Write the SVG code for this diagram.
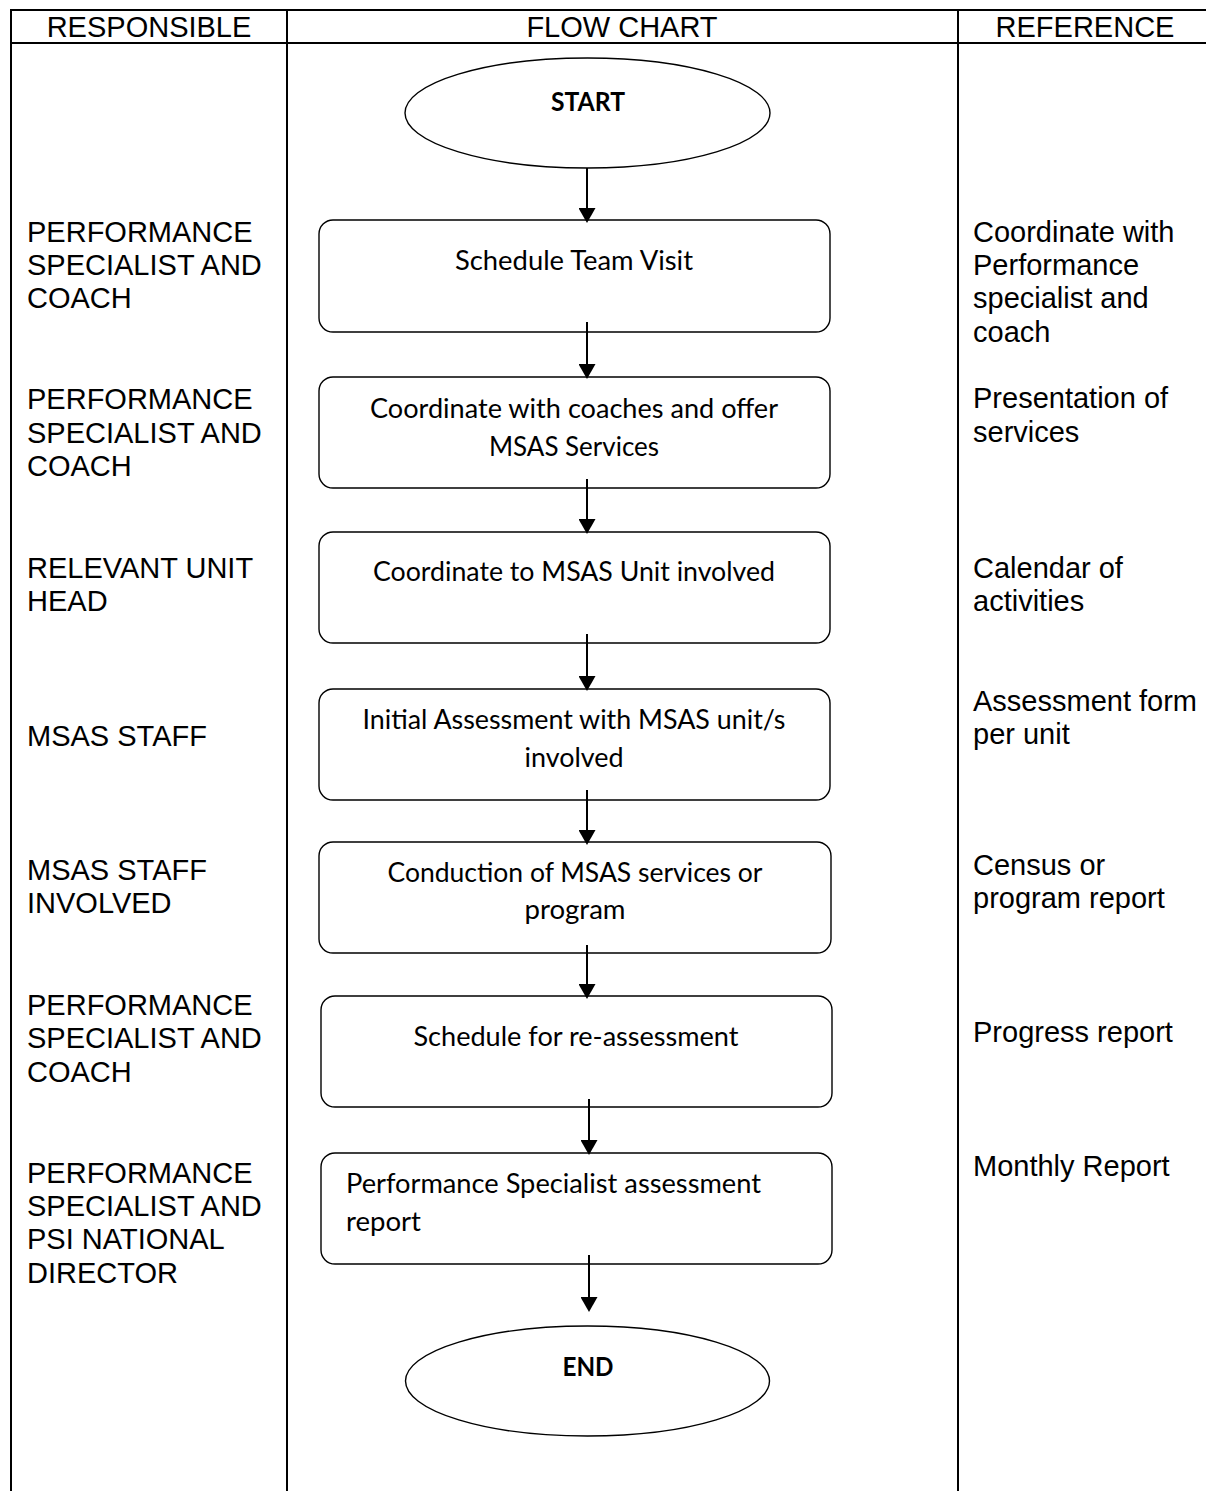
<svg xmlns="http://www.w3.org/2000/svg" width="1206" height="1491" viewBox="0 0 1206 1491">
<style>
.grid{stroke:#000;stroke-width:2;fill:none}
.tbl{font-family:"Liberation Sans",Arial,sans-serif;font-size:29px;fill:#000}
.hd{text-anchor:middle}
.box{fill:#fff;stroke:#000;stroke-width:1.4}
.ft{font-family:Lato,"Open Sans",sans-serif;font-size:26px;fill:#000;text-anchor:middle}
.fb{font-weight:bold}
.con{stroke:#000;stroke-width:2;fill:none}
</style>
<defs>
<marker id="ah" markerUnits="userSpaceOnUse" markerWidth="15" markerHeight="17" refX="4" refY="8.5" orient="auto">
<path d="M0,0 L15,8.5 L0,17 z" fill="#000"/>
</marker>
</defs>
<rect width="1206" height="1491" fill="#fff"/>
<g id="table">
<line class="grid" x1="10" y1="10" x2="1206" y2="10"/>
<line class="grid" x1="11" y1="9" x2="11" y2="1491"/>
<line class="grid" x1="11" y1="43" x2="1206" y2="43"/>
<line class="grid" x1="287" y1="10" x2="287" y2="1491"/>
<line class="grid" x1="958" y1="10" x2="958" y2="1491"/>
<text class="tbl hd" x="149" y="37">RESPONSIBLE</text>
<text class="tbl hd" x="622" y="37">FLOW CHART</text>
<text class="tbl hd" x="1085" y="37">REFERENCE</text>
</g>
<g id="responsible" class="tbl">
<text x="27" y="241.7">PERFORMANCE<tspan x="27" dy="33.33">SPECIALIST AND</tspan><tspan x="27" dy="33.33">COACH</tspan></text>
<text x="27" y="409.3">PERFORMANCE<tspan x="27" dy="33.33">SPECIALIST AND</tspan><tspan x="27" dy="33.33">COACH</tspan></text>
<text x="27" y="578">RELEVANT UNIT<tspan x="27" dy="33.33">HEAD</tspan></text>
<text x="27" y="746">MSAS STAFF</text>
<text x="27" y="880">MSAS STAFF<tspan x="27" dy="33.33">INVOLVED</tspan></text>
<text x="27" y="1015">PERFORMANCE<tspan x="27" dy="33.33">SPECIALIST AND</tspan><tspan x="27" dy="33.33">COACH</tspan></text>
<text x="27" y="1182.7">PERFORMANCE<tspan x="27" dy="33.33">SPECIALIST AND</tspan><tspan x="27" dy="33.33">PSI NATIONAL</tspan><tspan x="27" dy="33.33">DIRECTOR</tspan></text>
</g>
<g id="reference" class="tbl">
<text x="973" y="241.7">Coordinate with<tspan x="973" dy="33.33">Performance</tspan><tspan x="973" dy="33.33">specialist and</tspan><tspan x="973" dy="33.33">coach</tspan></text>
<text x="973" y="408.3">Presentation of<tspan x="973" dy="33.33">services</tspan></text>
<text x="973" y="577.5">Calendar of<tspan x="973" dy="33.33">activities</tspan></text>
<text x="973" y="711">Assessment form<tspan x="973" dy="33.33">per unit</tspan></text>
<text x="973" y="875">Census or<tspan x="973" dy="33.33">program report</tspan></text>
<text x="973" y="1042">Progress report</text>
<text x="973" y="1176">Monthly Report</text>
</g>
<g id="start">
<ellipse class="box" cx="587.5" cy="113" rx="182.5" ry="55"/>
<text class="ft fb" x="588" y="111" textLength="74" lengthAdjust="spacingAndGlyphs">START</text>
</g>
<g id="n1">
<rect class="box" x="319" y="220" width="511" height="112" rx="14"/>
<text class="ft" x="574" y="270" textLength="238" lengthAdjust="spacingAndGlyphs">Schedule Team Visit</text>
</g>
<g id="n2">
<rect class="box" x="319" y="377" width="511" height="111" rx="14"/>
<text class="ft" x="574" y="418" textLength="408" lengthAdjust="spacingAndGlyphs">Coordinate with coaches and offer</text>
<text class="ft" x="574" y="456" textLength="170" lengthAdjust="spacingAndGlyphs">MSAS Services</text>
</g>
<g id="n3">
<rect class="box" x="319" y="532" width="511" height="111" rx="14"/>
<text class="ft" x="574" y="581" textLength="402" lengthAdjust="spacingAndGlyphs">Coordinate to MSAS Unit involved</text>
</g>
<g id="n4">
<rect class="box" x="319" y="689" width="511" height="111" rx="14"/>
<text class="ft" x="574" y="729" textLength="423" lengthAdjust="spacingAndGlyphs">Initial Assessment with MSAS unit/s</text>
<text class="ft" x="574" y="767" textLength="99" lengthAdjust="spacingAndGlyphs">involved</text>
</g>
<g id="n5">
<rect class="box" x="319" y="842" width="512" height="111" rx="14"/>
<text class="ft" x="575" y="882" textLength="375" lengthAdjust="spacingAndGlyphs">Conduction of MSAS services or</text>
<text class="ft" x="575" y="919" textLength="101" lengthAdjust="spacingAndGlyphs">program</text>
</g>
<g id="n6">
<rect class="box" x="321" y="996" width="511" height="111" rx="14"/>
<text class="ft" x="576" y="1046" textLength="325" lengthAdjust="spacingAndGlyphs">Schedule for re-assessment</text>
</g>
<g id="n7">
<rect class="box" x="321" y="1153" width="511" height="111" rx="14"/>
<text class="ft" x="346" y="1193" style="text-anchor:start" textLength="415" lengthAdjust="spacingAndGlyphs">Performance Specialist assessment</text>
<text class="ft" x="346" y="1231" style="text-anchor:start" textLength="75" lengthAdjust="spacingAndGlyphs">report</text>
</g>
<g id="end">
<ellipse class="box" cx="587.5" cy="1381" rx="182" ry="55"/>
<text class="ft fb" x="588" y="1376" textLength="51" lengthAdjust="spacingAndGlyphs">END</text>
</g>
<g id="connectors">
<line class="con" x1="587" y1="168" x2="587" y2="212" marker-end="url(#ah)"/>
<line class="con" x1="587" y1="322" x2="587" y2="368" marker-end="url(#ah)"/>
<line class="con" x1="587" y1="479" x2="587" y2="523" marker-end="url(#ah)"/>
<line class="con" x1="587" y1="634" x2="587" y2="680" marker-end="url(#ah)"/>
<line class="con" x1="587" y1="790" x2="587" y2="834" marker-end="url(#ah)"/>
<line class="con" x1="587" y1="945" x2="587" y2="988" marker-end="url(#ah)"/>
<line class="con" x1="589" y1="1099" x2="589" y2="1144" marker-end="url(#ah)"/>
<line class="con" x1="589" y1="1255" x2="589" y2="1301" marker-end="url(#ah)"/>
</g>
</svg>
